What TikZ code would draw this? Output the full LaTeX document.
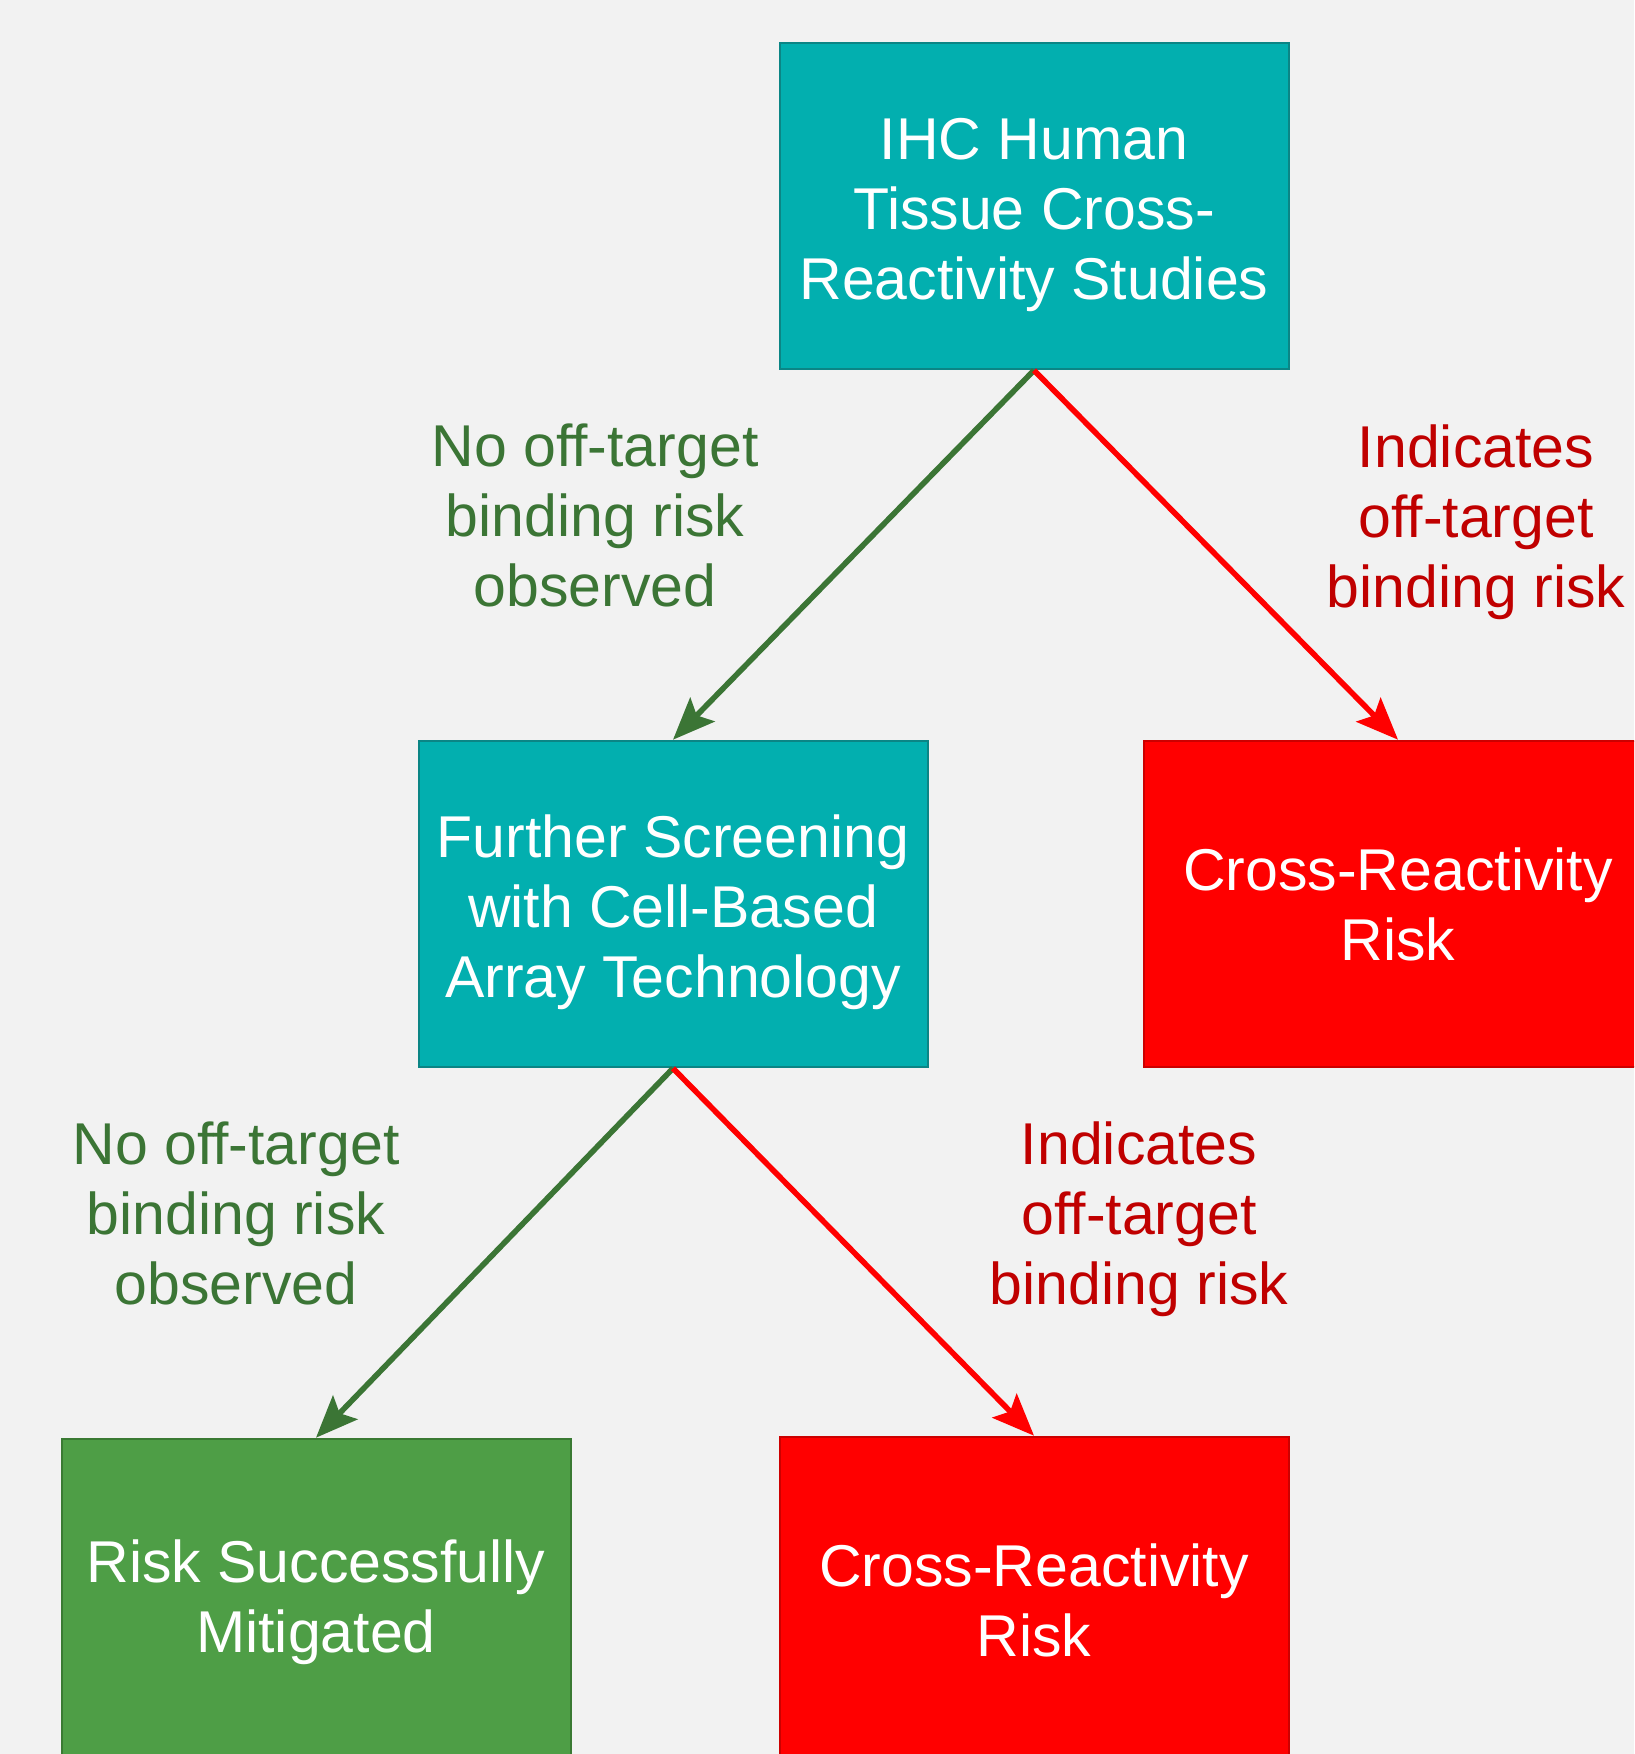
\documentclass[tikz,border=0pt]{standalone}
\usepackage{fontspec}
\setmainfont{Liberation Sans}
\usetikzlibrary{arrows.meta, positioning}
\definecolor{screencolor}{HTML}{02AFAF}
\definecolor{screenedge}{HTML}{0B8585}
\definecolor{riskcolor}{HTML}{FF0000}
\definecolor{riskedge}{HTML}{CC0000}
\definecolor{safecolor}{HTML}{4E9E46}
\definecolor{safeedge}{HTML}{3A7A33}
\definecolor{safeline}{HTML}{3B7535}
\definecolor{risktext}{HTML}{C00000}
\definecolor{bgcolor}{HTML}{F2F2F2}

\begin{document}
\begin{tikzpicture}[x=0.5pt, y=-0.5pt,
    box/.style={rectangle, line width=1pt, minimum width=254.5pt, minimum height=163.3pt, inner sep=0pt, align=center, text=white, font=\fontsize{29.5pt}{35pt}\selectfont},
    screen/.style={box, draw=screenedge, fill=screencolor, text height=100pt},
    risk/.style={box, draw=riskedge, fill=riskcolor},
    safe/.style={box, draw=safeedge, fill=safecolor},
    arrow/.style={-{Stealth[length=21pt, width=17pt, inset=4pt]}, line width=2.8pt},
    okpath/.style={arrow, draw=safeline},
    badpath/.style={arrow, draw=riskcolor},
    oklabel/.style={align=center, text=safeline, font=\fontsize{29.5pt}{35pt}\selectfont},
    badlabel/.style={align=center, text=risktext, font=\fontsize{29.5pt}{35pt}\selectfont}
]
\useasboundingbox (0,0) rectangle (1634,1754);
\clip (0,0) rectangle (1634,1754);
\fill[bgcolor] (0,0) rectangle (1634,1754);

\node[screen] (ihc) at (1034,206) {IHC Human\\Tissue Cross-\\Reactivity Studies};
\node[screen] (cellarray) at (673,904) {Further Screening\\with Cell-Based\\Array Technology};
\node[risk] (riskA) at (1398,904) {Cross-Reactivity\\Risk};
\node[safe] (mitigated) at (316,1602) {Risk Successfully\\Mitigated};
\node[risk] (riskB) at (1034,1600) {Cross-Reactivity\\Risk};

\draw[okpath] (ihc.south) -- (cellarray.north);
\draw[badpath] (ihc.south) -- (riskA.north);
\draw[okpath] (cellarray.south) -- (mitigated.north);
\draw[badpath] (cellarray.south) -- (riskB.north);

\node[oklabel] (noriskA) at (595,515) {No off-target\\binding risk\\observed};
\node[badlabel] (offriskA) at (1476,522) {Indicates\\off-target\\binding risk};
\node[oklabel] (noriskB) at (236,1213) {No off-target\\binding risk\\observed};
\node[badlabel] (offriskB) at (1139,1219) {Indicates\\off-target\\binding risk};
\end{tikzpicture}
\end{document}
